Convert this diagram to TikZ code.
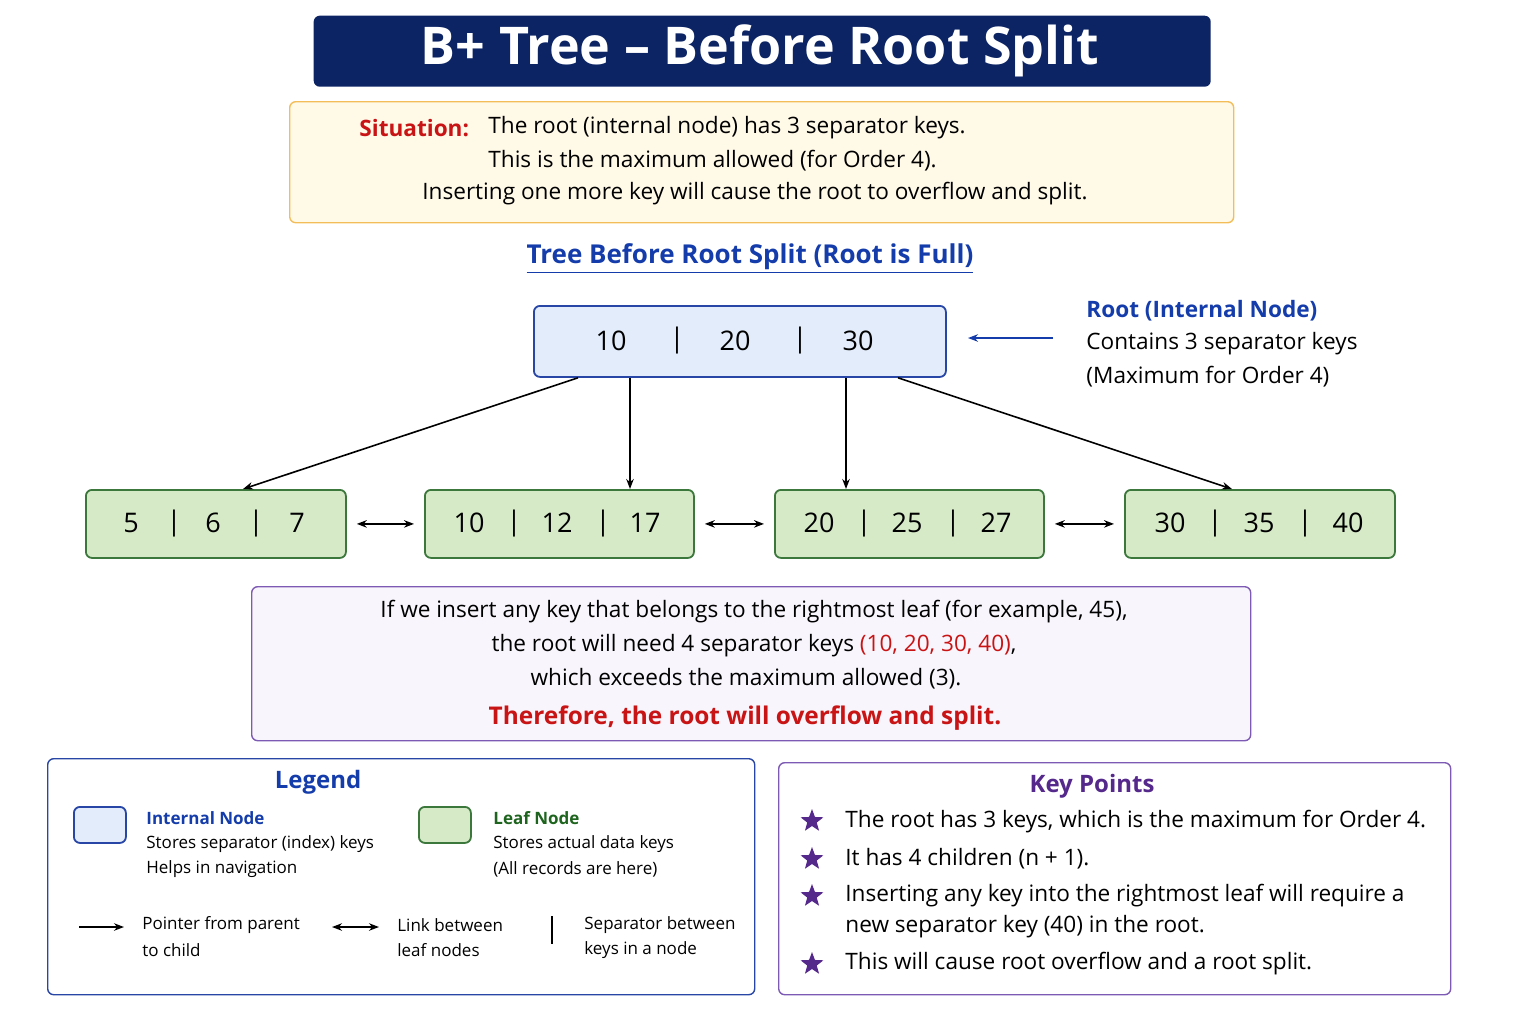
\documentclass[tikz,border=0pt]{standalone}
\usepackage{fontspec}
\setmainfont{Open Sans}
\usepackage{tikz}
\usetikzlibrary{shapes,arrows.meta}
\definecolor{navy}{RGB}{12, 36, 100}
\definecolor{sitfill}{RGB}{255, 249, 232}
\definecolor{sitdraw}{RGB}{243, 190, 90}
\definecolor{intfill}{RGB}{226, 236, 250}
\definecolor{intdraw}{RGB}{40, 70, 165}
\definecolor{leaffill}{RGB}{214, 234, 200}
\definecolor{leafdraw}{RGB}{60, 120, 60}
\definecolor{purp}{RGB}{125, 90, 180}
\definecolor{purpfill}{RGB}{249, 245, 252}
\definecolor{keyred}{RGB}{200, 20, 20}
\definecolor{headblue}{RGB}{20, 60, 170}
\definecolor{leafgreen}{RGB}{30, 100, 30}
\definecolor{starpurp}{RGB}{85, 40, 140}

\begin{document}
\begin{tikzpicture}[
   x=0.5pt, y=-0.5pt,
   box/.style={rectangle, rounded corners=3, line width=0.7, inner sep=0, anchor=north west},
   intnode/.style={box, draw=intdraw, fill=intfill, line width=0.9},
   leafnode/.style={box, draw=leafdraw, fill=leaffill, line width=0.9,
                    minimum height=34},
   key/.style={font=\fontsize{13.5}{15}\selectfont},
   sep/.style={font=\fontsize{13.5}{15}\selectfont},
   body/.style={font=\fontsize{11.3}{13}\selectfont, inner sep=0},
   small/.style={font=\fontsize{8.5}{10}\selectfont, inner sep=0, anchor=west},
   ptr/.style={-{Stealth[length=5pt]}, line width=0.8},
   link/.style={{Stealth[length=5pt]}-{Stealth[length=5pt]}, line width=0.8}
  ]

  \useasboundingbox (0, 0) rectangle (1536, 1024);

  % Title
  \node (title) [box, fill=navy, minimum width=448.5, minimum height=35.5] at (313, 15) {};
  \node at (760, 51) [text=white, font=\fontsize{26}{30}\selectfont\bfseries] {B+ Tree – Before Root Split};

  % Situation
  \node (sit) [box, draw=sitdraw, fill=sitfill, minimum width=472, minimum height=60.5] at (289, 101) {};
  \node (sitlbl) at (359, 128) [body, anchor=west, text=keyred, font=\fontsize{11.3}{13}\selectfont\bfseries] {Situation:};
  \node (sit1) at (488, 128) [body, anchor=west] {The root (internal node) has 3 separator keys.};
  \node (sit2) at (488, 161) [body, anchor=west] {This is the maximum allowed (for Order 4).};
  \node (sit3) at (755, 194) [body] {Inserting one more key will cause the root to overflow and split.};

  \node (head) at (750, 259) [body, text=headblue, font=\fontsize{13}{15}\selectfont\bfseries] {\underline{Tree Before Root Split (Root is Full)}};

  % Root
  \node (root) [intnode, minimum width=206, minimum height=35.5] at (533, 305) {};
  \foreach \x/\k in {611/10, 735/20, 858/30} {
    \node at (\x, 341) [key] {\k};
  }
  \foreach \x in {677, 800} {
    \node at (\x, 341) [sep] {|};
  }
  \coordinate (rootnote) at (1053, 338);
  \coordinate (rootedge) at (968, 338);
  \draw[ptr, color=headblue] (rootnote) -- (rootedge);
  \node (rn1) at (1086, 311) [body, anchor=west, text=headblue, font=\fontsize{11.3}{13}\selectfont\bfseries] {Root (Internal Node)};
  \node (rn2) at (1086, 344) [body, anchor=west] {Contains 3 separator keys};
  \node (rn3) at (1086, 377) [body, anchor=west] {(Maximum for Order 4)};

  % Leaves
  \node (L1) [leafnode, minimum width=130] at (85, 489) {};
  \node (L2) [leafnode, minimum width=134.5] at (424, 489) {};
  \node (L3) [leafnode, minimum width=134.5] at (774, 489) {};
  \node (L4) [leafnode, minimum width=135] at (1124, 489) {};
  \foreach \x/\k in {131/5, 213/6, 297/7, 469/10, 557/12, 645/17,
                     819/20, 907/25, 996/27, 1170/30, 1259/35, 1348/40} {
    \node at (\x, 523) [key] {\k};
  }
  \foreach \x in {174, 256, 514, 603, 864, 953, 1215, 1305} {
    \node at (\x, 523) [sep] {|};
  }

  \foreach \S/\E/\T in {45/L1/158, 97/L2/206, 313/L3/72, 365/L4/108} {
    \draw[ptr] ([xshift=\S*0.5pt]root.south west) -- ([xshift=\T*0.5pt]\E.north west);
  }
  \foreach \B/\E in {L1/L2, L2/L3, L3/L4} {
    \draw[link] ([xshift=5]\B.east) -- ([xshift=-5]\E.west);
  }

  % Overflow note
  \node (note) [box, draw=purp, fill=purpfill, minimum width=499.5, minimum height=77] at (251, 586) {};
  \node (n1) at (754, 612) [body] {If we insert any key that belongs to the rightmost leaf (for example, 45),};
  \node (n2) at (754, 646) [body] {the root will need 4 separator keys \textcolor{keyred}{(10, 20, 30, 40)},};
  \node (n3) at (746, 679) [body] {which exceeds the maximum allowed (3).};
  \node (n4) at (745, 718) [body, text=keyred, font=\fontsize{12.2}{14}\selectfont\bfseries] {Therefore, the root will overflow and split.};

  % Legend
  \node (legend) [box, draw=intdraw, minimum width=353.5, minimum height=118] at (47, 758) {};
  \node at (318, 782) [body, text=headblue, font=\fontsize{12}{14}\selectfont\bfseries] {Legend};
  \node (swint) [intnode, minimum width=26, minimum height=18] at (73, 806) {};
  \node at (146, 818) [small, text=headblue, font=\fontsize{8.5}{10}\selectfont\bfseries] {Internal Node};
  \node at (146, 844) [small] {Stores separator (index) keys};
  \node at (146, 869) [small] {Helps in navigation};
  \node (swleaf) [leafnode, minimum width=26, minimum height=18] at (418, 806) {};
  \node at (493, 818) [small, text=leafgreen, font=\fontsize{8.5}{10}\selectfont\bfseries] {Leaf Node};
  \node at (493, 844) [small] {Stores actual data keys};
  \node at (493, 869) [small] {(All records are here)};
  \coordinate (pa) at (79, 927);
  \coordinate (pb) at (124, 927);
  \draw[ptr] (pa) -- (pb);
  \node at (142, 925) [small] {Pointer from parent};
  \node at (142, 950) [small] {to child};
  \coordinate (la) at (332, 927);
  \coordinate (lb) at (379, 927);
  \draw[link] (la) -- (lb);
  \node at (397, 925) [small] {Link between};
  \node at (397, 950) [small] {leaf nodes};
  \coordinate (sa) at (552, 916);
  \coordinate (sb) at (552, 944);
  \draw[line width=0.8] (sa) -- (sb);
  \node at (584, 925) [small] {Separator between};
  \node at (584, 950) [small] {keys in a node};

  % Key points
  \node (keys) [box, draw=purp, minimum width=336, minimum height=116] at (778, 762) {};
  \node at (1092, 786) [body, text=starpurp, font=\fontsize{12}{14}\selectfont\bfseries] {Key Points};
  \foreach \y in {821, 859, 896, 964} {
    \node at (812, \y) [star, star points=5, star point ratio=2.4, fill=starpurp, inner sep=0, minimum size=12] {};
  }
  \node at (845, 822) [body, anchor=west] {The root has 3 keys, which is the maximum for Order 4.};
  \node at (845, 859) [body, anchor=west] {It has 4 children (n + 1).};
  \node at (845, 896) [body, anchor=west] {Inserting any key into the rightmost leaf will require a};
  \node at (845, 927) [body, anchor=west] {new separator key (40) in the root.};
  \node at (845, 964) [body, anchor=west] {This will cause root overflow and a root split.};

\end{tikzpicture}
\end{document}
